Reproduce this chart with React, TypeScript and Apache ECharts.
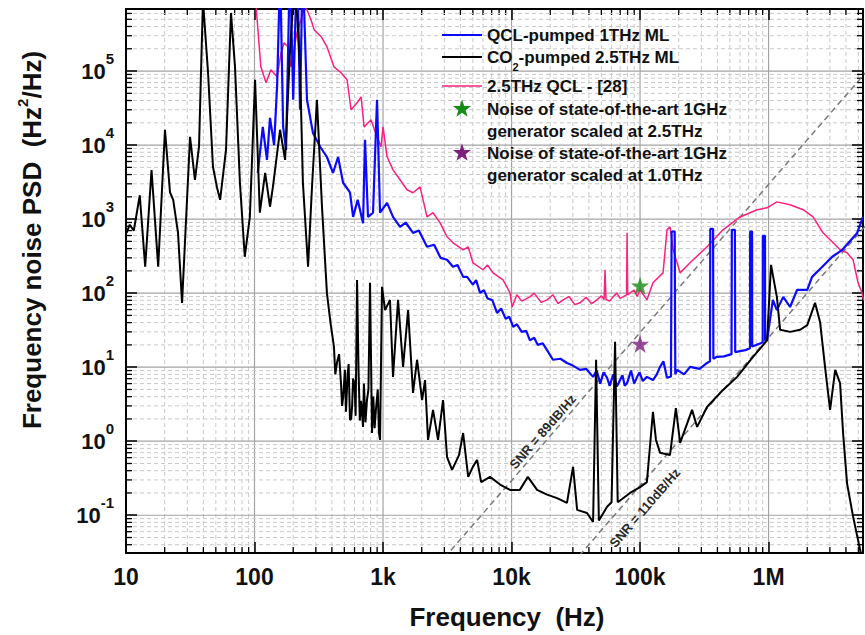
import React, { useEffect, useRef } from 'react';
import * as echarts from 'echarts';

const FONT = '"Liberation Sans", Arial, Helvetica, sans-serif';

// axis ranges (Hz ; Hz^2/Hz)
const xRange = [10, 5.43e6];
const yRange = [0.0309, 6.89e5];

const xTickValues = [10, 100, 1000, 10000, 100000, 1000000];
const xTickLabels = ['10', '100', '1k', '10k', '100k', '1M'];
const yTickExponents = [-1, 0, 1, 2, 3, 4, 5];

// CO2-pumped 2.5THz ML (black)
const co2Freq = [10.1, 10.7, 11.5, 12.8, 14.1, 15.8, 17.8, 20.1, 22, 23.3, 25.4, 27.3, 31.5, 34.4, 37, 39.7, 43.5, 47.5, 51, 54, 60, 65.6, 70.5, 77, 84, 92, 101, 110, 121, 132, 139, 158, 173, 189, 200, 214, 226, 238, 261, 280, 306, 335, 366, 390, 415, 425, 440, 455, 471, 480, 490, 505, 515, 530, 540, 553, 565, 575, 585, 600, 612, 628, 645, 660, 675, 699, 710, 730, 750, 770, 792, 821, 840, 860, 880, 910, 930, 948, 982, 1037, 1133, 1196, 1309, 1432, 1567, 1711, 1840, 2013, 2123, 2240, 2450, 2680, 2930, 3150, 3445, 3900, 4200, 4600, 5000, 5400, 5800, 6810, 8140, 9730, 11600, 13400, 15800, 18900, 22600, 27000, 30100, 32400, 38700, 43100, 45500, 47800, 55400, 60000, 63900, 67000, 83600, 100000, 113000, 126000, 133000, 143000, 171000, 190000, 205000, 254000, 278000, 332000, 420000, 569000, 757000, 973000, 1045000, 1160000, 1230000, 1470000, 1760000, 2000000, 2300000, 2520000, 2750000, 3010000, 3300000, 3600000, 3800000, 4080000, 4550000, 5160000, 5500000];
const co2Psd = [650, 840, 700, 2100, 227, 4600, 227, 16100, 2300, 1820, 650, 74, 12900, 3400, 9500, 9e5, 9.5e4, 5100, 2700, 1820, 8600, 6.1e5, 1.14e5, 3100, 310, 1070, 7.6e4, 1220, 4200, 1470, 2700, 16100, 6300, 1.94e5, 9e5, 6.1e5, 1.14e5, 3100, 227, 2700, 41000, 1470, 100, 40, 19, 8, 12, 15, 6, 3, 4, 9.2, 2.5, 8, 11, 1.94, 2, 3, 7, 6, 2.2, 151, 9, 1.9, 3.5, 1.56, 6, 1.8, 3.6, 5, 138, 1.29, 4, 1.5, 2.65, 5, 1.3, 1.04, 122, 59, 81, 7.4, 81, 10.1, 59, 4.5, 12.6, 3.6, 6.7, 1.04, 2.65, 1.04, 3.6, 0.61, 0.41, 0.65, 1.29, 0.33, 0.45, 0.56, 0.28, 0.33, 0.26, 0.22, 0.22, 0.33, 0.22, 0.19, 0.17, 0.147, 0.45, 0.118, 0.107, 0.081, 12.6, 0.085, 0.13, 0.15, 22, 0.15, 0.2, 0.24, 0.28, 2.5, 1.04, 0.7, 0.65, 2.8, 0.95, 2.65, 1.56, 2.9, 4.5, 7.4, 13.8, 23, 241, 89, 32, 30, 32, 37, 74, 40, 10.1, 2.65, 9.2, 6.1, 1.29, 0.27, 0.095, 0.034, 0.02];

// QCL-pumped 1THz ML (blue)
const qclFreq = [106, 116, 125, 132, 142, 150, 156, 160, 167, 176, 186, 192, 200, 210, 218, 226, 234, 242, 256, 285, 324, 366, 408, 447, 489, 553, 585, 635, 699, 724, 764, 836, 898, 948, 1075, 1196, 1356, 1500, 1711, 1900, 2200, 2500, 2800, 3150, 3500, 3800, 4200, 4510, 5000, 5300, 5690, 6100, 6500, 7100, 7710, 8300, 9000, 9600, 10300, 11000, 12000, 13000, 13900, 15000, 16000, 17500, 18900, 21000, 24000, 27000, 30000, 34100, 38000, 43100, 46000, 49000, 52000, 55400, 58000, 62000, 66000, 69900, 73000, 76000, 79300, 85000, 90000, 94900, 99000, 105000, 113000, 126000, 135000, 143000, 152000, 162000, 174000, 176000, 186000, 188000, 194000, 220000, 245000, 290000, 332000, 350000, 352000, 370000, 372000, 397000, 450000, 515000, 518000, 547000, 550000, 600000, 660000, 717000, 719000, 744000, 746000, 800000, 870000, 900000, 902000, 938000, 940000, 973000, 1080000, 1160000, 1300000, 1470000, 1670000, 2000000, 2180000, 2620000, 3130000, 3750000, 4890000, 5430000];
const qclPsd = [4200, 17600, 6300, 23300, 10000, 65000, 9e5, 9e5, 17600, 8600, 9e5, 9e5, 41000, 9e5, 9e5, 30000, 9e5, 9e5, 41000, 14600, 9500, 6900, 4200, 6900, 3100, 2300, 1070, 1820, 880, 11800, 1070, 1220, 41000, 1220, 1660, 1070, 787, 900, 650, 700, 423, 450, 300, 282, 227, 240, 166, 166, 130, 150, 101, 110, 85, 80, 54, 62, 45, 48, 35, 38, 30, 31, 23, 25, 20, 21, 17, 12.6, 13, 11.4, 10.5, 9.2, 9.5, 7.4, 9, 6, 8.5, 7.2, 5.6, 8, 5.5, 6.7, 7.8, 5.6, 6.1, 9, 6, 7.4, 8.5, 6.5, 7.4, 6.7, 8, 10.1, 12, 7.2, 7.5, 680, 680, 8, 9.2, 8, 10.1, 9.5, 11.4, 12, 740, 740, 13, 13.8, 14, 15, 716, 716, 16, 16.5, 17, 18, 680, 680, 19, 20, 21, 22, 596, 596, 23, 23, 81, 59, 89, 65, 111, 111, 166, 227, 310, 385, 650, 1070];

// 2.5THz QCL - [28] (pink)
const refFreq = [102, 112, 123, 134, 150, 161, 170, 182, 192, 203, 214, 230, 243, 256, 275, 291, 330, 366, 415, 471, 525, 564, 628, 675, 712, 807, 898, 964, 1000, 1075, 1196, 1356, 1537, 1711, 1940, 2200, 2450, 2780, 3150, 3510, 4200, 4600, 5010, 6000, 6500, 7180, 8590, 9730, 10100, 11000, 12000, 13900, 15000, 17000, 18900, 21000, 23000, 25200, 28000, 31000, 34100, 38000, 42000, 46200, 50000, 52500, 53400, 54300, 58000, 61600, 66000, 70000, 78500, 79300, 80100, 83600, 90000, 95000, 100000, 113000, 126000, 151000, 162000, 171000, 181000, 205000, 245000, 332000, 442000, 600000, 815000, 973000, 1160000, 1470000, 1860000, 2220000, 2650000, 3180000, 3600000, 4080000, 4550000, 4970000, 5330000, 5500000];
const refPsd = [9e5, 114000, 69500, 104000, 83700, 177000, 241000, 213000, 114000, 194000, 330000, 493000, 740000, 673000, 493000, 361000, 291000, 213000, 114000, 94800, 76300, 30000, 37200, 44900, 17600, 22000, 12900, 9480, 17600, 6950, 4630, 3400, 2490, 2270, 2730, 1070, 1220, 890, 577, 479, 385, 420, 257, 207, 240, 188, 151, 101, 65, 95, 78, 89, 100, 75, 81, 95, 72, 81, 90, 70, 74, 88, 72, 81, 92, 82, 207, 82, 78, 89, 100, 85, 95, 653, 95, 101, 110, 90, 111, 81, 138, 188, 716, 787, 385, 188, 257, 423, 716, 1070, 1340, 1420, 1710, 1560, 1340, 1070, 653, 479, 385, 351, 282, 138, 101, 80];

// reference generator noise (stars) at 100 kHz
const starFreq = [1e5, 1e5];
const starPsd = [126, 20.6];

// SNR guide lines (end points) and label anchors
const snr89Freq = [3000, 6e6];
const snr89Psd = [0.0265, 1.06e5];
const snr110Freq = [30000, 6e6];
const snr110Psd = [0.0226, 904];
const snrLabelFreq = [17500, 109000];
const snrLabelPsd = [1.34, 0.126];
const snrLabels = ['SNR = 89dB/Hz', 'SNR = 110dB/Hz'];

const L = (v: number) => Math.log10(v);
const pairs = (f: number[], s: number[]) => f.map((x, i) => [L(x), L(s[i])]);

const STAR = 'path://M50,0L61.2,34.5L97.6,34.5L68.2,55.9L79.4,90.5L50,69.1L20.6,90.5L31.8,55.9L2.4,34.5L38.8,34.5Z';

function starPts(cx: number, cy: number, R: number) {
  const pts: number[][] = [];
  for (let i = 0; i < 10; i++) {
    const a = -Math.PI / 2 + (i * Math.PI) / 5;
    const r = i % 2 ? R * 0.4 : R;
    pts.push([cx + r * Math.cos(a), cy + r * Math.sin(a)]);
  }
  return pts;
}

export default function App() {
  const ref = useRef<HTMLDivElement>(null);
  useEffect(() => {
    if (!ref.current) return;
    const chart = echarts.init(ref.current, undefined, { renderer: 'svg' });
    const LX0 = L(xRange[0]), LX1 = L(xRange[1]);
    const LY0 = L(yRange[0]), LY1 = L(yRange[1]);

    const xMajor = xTickValues.map(L);
    const xGrid: number[][] = [];
    for (let n = 1; n <= 6; n++) {
      xGrid.push([n, 0, 0]);
      for (let k = 2; k <= 9; k++) {
        const v = n + Math.log10(k);
        if (v < LX1) xGrid.push([v, 0, 1]);
      }
    }
    const yGrid: number[][] = [];
    for (let n = -2; n <= 5; n++) {
      if (n >= LY0) yGrid.push([1, n, 0]);
      for (let k = 2; k <= 9; k++) {
        const v = n + Math.log10(k);
        if (v > LY0 && v < LY1) yGrid.push([1, v, 1]);
      }
    }

    const majorStyle = { stroke: '#a3a3a3', lineWidth: 1.2 };
    const minorStyle = { stroke: '#c9c9c9', lineWidth: 1, lineDash: [4, 3] };
    const tickStyle = { stroke: '#000', lineWidth: 1.3 };

    const axisCommon = {
      type: 'value',
      axisLine: { show: true, onZero: false, lineStyle: { color: '#000', width: 2 } },
      splitLine: { show: false },
    };

    const legendFont = { fontSize: 17, fontWeight: 'bold', fontFamily: FONT, fill: '#111' };

    const graphics: any[] = [
      { type: 'line', z: 50, shape: { x1: 442, y1: 35, x2: 482, y2: 35 }, style: { stroke: '#0a0aff', lineWidth: 2 } },
      { type: 'text', z: 50, x: 487, y: 35, style: { ...legendFont, text: 'QCL-pumped 1THz ML', verticalAlign: 'middle' } },
      { type: 'line', z: 50, shape: { x1: 442, y1: 57, x2: 482, y2: 57 }, style: { stroke: '#000', lineWidth: 2 } },
      {
        type: 'text', z: 50, x: 487, y: 57,
        style: {
          text: '{n|CO}{u|2}{n|-pumped 2.5THz ML}',
          verticalAlign: 'middle',
          rich: {
            n: { fontSize: 17, fontWeight: 'bold', fontFamily: FONT, fill: '#111', lineHeight: 30, verticalAlign: 'middle' },
            u: { fontSize: 11, fontWeight: 'bold', fontFamily: FONT, fill: '#111', lineHeight: 11, verticalAlign: 'bottom' },
          },
        },
      },
      { type: 'line', z: 50, shape: { x1: 442, y1: 86, x2: 482, y2: 86 }, style: { stroke: '#ff1f7f', lineWidth: 1.5 } },
      { type: 'text', z: 50, x: 487, y: 86, style: { ...legendFont, text: '2.5THz QCL - [28]', verticalAlign: 'middle' } },
      { type: 'polygon', z: 50, shape: { points: starPts(462, 109, 9.5) }, style: { fill: '#168c16' } },
      { type: 'text', z: 50, x: 487, y: 109, style: { ...legendFont, text: 'Noise of state-of-the-art 1GHz', verticalAlign: 'middle' } },
      { type: 'text', z: 50, x: 487, y: 131, style: { ...legendFont, text: 'generator scaled at 2.5THz', verticalAlign: 'middle' } },
      { type: 'polygon', z: 50, shape: { points: starPts(462, 153, 9.5) }, style: { fill: '#7d1f7d' } },
      { type: 'text', z: 50, x: 487, y: 153, style: { ...legendFont, text: 'Noise of state-of-the-art 1GHz', verticalAlign: 'middle' } },
      { type: 'text', z: 50, x: 487, y: 175, style: { ...legendFont, text: 'generator scaled at 1.0THz', verticalAlign: 'middle' } },
      {
        type: 'text', z: 50, x: 507, y: 617,
        style: { text: 'Frequency  (Hz)', fontSize: 26, fontWeight: 'bold', fontFamily: FONT, fill: '#111', align: 'center', verticalAlign: 'middle' },
      },
      {
        type: 'text', z: 50, x: 32, y: 240, rotation: Math.PI / 2,
        style: {
          text: '{t|Frequency noise PSD  (Hz}{p|2}{t|/Hz)}',
          align: 'center',
          verticalAlign: 'middle',
          rich: {
            t: { fontSize: 26, fontWeight: 'bold', fontFamily: FONT, fill: '#111', lineHeight: 34, verticalAlign: 'middle' },
            p: { fontSize: 15, fontWeight: 'bold', fontFamily: FONT, fill: '#111', lineHeight: 15, verticalAlign: 'top' },
          },
        },
      },
    ];

    const option: any = {
      animation: false,
      backgroundColor: '#fff',
      grid: { left: 126, right: 2, top: 9, bottom: 82 },
      xAxis: [
        {
          ...axisCommon,
          position: 'bottom',
          min: LX0,
          max: LX1,
          axisTick: { show: true, inside: true, length: 11, customValues: xMajor, lineStyle: { color: '#000', width: 1.5 } },
          axisLabel: {
            customValues: xMajor,
            showMinLabel: true,
            formatter: (v: number) => {
              const i = xMajor.findIndex((t) => Math.abs(t - v) < 1e-6);
              return i >= 0 ? xTickLabels[i] : '';
            },
            fontSize: 23,
            fontWeight: 'bold',
            fontFamily: FONT,
            color: '#111',
            margin: 12,
          },
        },
        {
          ...axisCommon,
          position: 'top',
          min: LX0,
          max: LX1,
          axisTick: { show: true, inside: true, length: 11, customValues: xMajor, lineStyle: { color: '#000', width: 1.5 } },
          axisLabel: { show: false },
        },
      ],
      yAxis: [
        {
          ...axisCommon,
          position: 'left',
          min: LY0,
          max: LY1,
          axisTick: { show: true, inside: true, length: 11, customValues: yTickExponents, lineStyle: { color: '#000', width: 1.5 } },
          axisLabel: {
            customValues: yTickExponents,
            formatter: (v: number) => `{b|10}{s|${Math.round(v)}}`,
            margin: 12,
            rich: {
              b: { fontSize: 22, fontWeight: 'bold', fontFamily: FONT, color: '#111', lineHeight: 40, verticalAlign: 'middle' },
              s: { fontSize: 15, fontWeight: 'bold', fontFamily: FONT, color: '#111', lineHeight: 15, verticalAlign: 'top' },
            },
          },
        },
        {
          ...axisCommon,
          position: 'right',
          min: LY0,
          max: LY1,
          axisTick: { show: true, inside: true, length: 11, customValues: yTickExponents, lineStyle: { color: '#000', width: 1.5 } },
          axisLabel: { show: false },
        },
      ],
      series: [
        {
          type: 'custom',
          name: 'xgrid',
          silent: true,
          z: 0,
          encode: { x: 0, y: 1 },
          data: xGrid,
          renderItem: (params: any, api: any) => {
            const v = api.value(0);
            const minor = api.value(2);
            const p0 = api.coord([v, LY0]);
            const p1 = api.coord([v, LY1]);
            const children: any[] = [
              { type: 'line', shape: { x1: p0[0], y1: p0[1], x2: p1[0], y2: p1[1] }, style: minor ? minorStyle : majorStyle },
            ];
            if (minor) {
              children.push({ type: 'line', shape: { x1: p0[0], y1: p0[1], x2: p0[0], y2: p0[1] - 6 }, style: tickStyle });
              children.push({ type: 'line', shape: { x1: p1[0], y1: p1[1], x2: p1[0], y2: p1[1] + 6 }, style: tickStyle });
            }
            return { type: 'group', children };
          },
        },
        {
          type: 'custom',
          name: 'ygrid',
          silent: true,
          z: 0,
          encode: { x: 0, y: 1 },
          data: yGrid,
          renderItem: (params: any, api: any) => {
            const v = api.value(1);
            const minor = api.value(2);
            const p0 = api.coord([LX0, v]);
            const p1 = api.coord([LX1, v]);
            const children: any[] = [
              { type: 'line', shape: { x1: p0[0], y1: p0[1], x2: p1[0], y2: p1[1] }, style: minor ? minorStyle : majorStyle },
            ];
            if (minor) {
              children.push({ type: 'line', shape: { x1: p0[0], y1: p0[1], x2: p0[0] + 6, y2: p0[1] }, style: tickStyle });
              children.push({ type: 'line', shape: { x1: p1[0], y1: p1[1], x2: p1[0] - 6, y2: p1[1] }, style: tickStyle });
            }
            return { type: 'group', children };
          },
        },
        {
          type: 'line',
          name: 'SNR89',
          data: pairs(snr89Freq, snr89Psd),
          showSymbol: false,
          silent: true,
          z: 1,
          lineStyle: { color: '#7a7a7a', width: 1.5, type: [6, 4] },
        },
        {
          type: 'line',
          name: 'SNR110',
          data: pairs(snr110Freq, snr110Psd),
          showSymbol: false,
          silent: true,
          z: 1,
          lineStyle: { color: '#7a7a7a', width: 1.5, type: [6, 4] },
        },
        {
          type: 'line',
          name: '2.5THz QCL - [28]',
          data: pairs(refFreq, refPsd),
          showSymbol: false,
          z: 2,
          lineStyle: { color: '#ff1f7f', width: 1.5 },
        },
        {
          type: 'line',
          name: 'QCL-pumped 1THz ML',
          data: pairs(qclFreq, qclPsd),
          showSymbol: false,
          z: 3,
          lineStyle: { color: '#0a0aff', width: 2.2 },
        },
        {
          type: 'line',
          name: 'CO2-pumped 2.5THz ML',
          data: pairs(co2Freq, co2Psd),
          showSymbol: false,
          z: 4,
          lineStyle: { color: '#000', width: 2 },
        },
        {
          type: 'scatter',
          name: 'gen2.5',
          data: [[L(starFreq[0]), L(starPsd[0])]],
          symbol: STAR,
          symbolSize: 18,
          z: 5,
          itemStyle: { color: '#168c16' },
        },
        {
          type: 'scatter',
          name: 'gen1.0',
          data: [[L(starFreq[1]), L(starPsd[1])]],
          symbol: STAR,
          symbolSize: 18,
          z: 5,
          itemStyle: { color: '#7d1f7d' },
        },
      ],
      graphic: graphics,
    };
    chart.setOption(option);

    // SNR labels, placed through the grid's own coordinate conversion
    const snrTexts = snrLabels.map((t, i) => {
      const p = chart.convertToPixel({ gridIndex: 0 }, [L(snrLabelFreq[i]), L(snrLabelPsd[i])]) as number[];
      return {
        type: 'text', z: 40, x: p[0], y: p[1], rotation: (49 * Math.PI) / 180,
        style: { text: t, fontSize: 13, fontWeight: 'bold', fontFamily: FONT, fill: '#2a2a2a', align: 'center', verticalAlign: 'middle' },
      };
    });
    chart.setOption({ graphic: [...graphics, ...snrTexts] });
    return () => chart.dispose();
  }, []);
  return <div ref={ref} style={{ position: 'fixed', left: 0, top: 0, width: 865, height: 635 }} />;
}
